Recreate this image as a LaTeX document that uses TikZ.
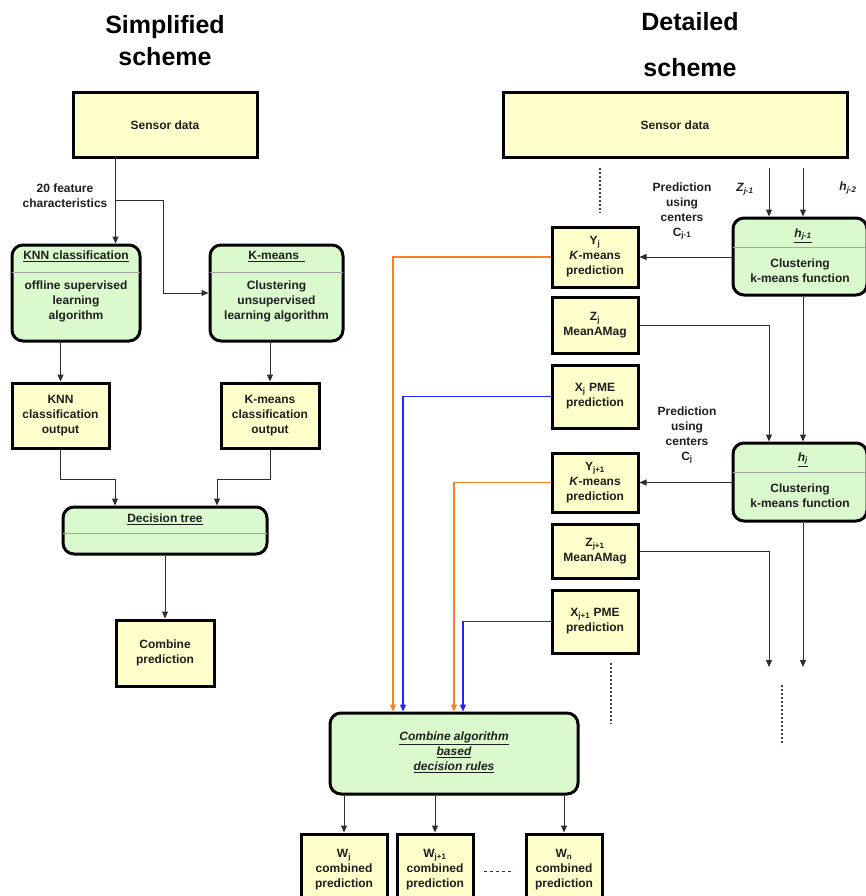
\documentclass[tikz,border=0pt]{standalone}
\usepackage{fontspec}
\setmainfont{Liberation Sans}
\usetikzlibrary{arrows.meta,calc}
\definecolor{yel}{RGB}{255,255,204}
\definecolor{grn}{RGB}{218,250,206}
\definecolor{lnk}{RGB}{45,45,45}
\definecolor{org}{RGB}{255,125,35}
\definecolor{blu}{RGB}{35,35,255}
\definecolor{sepg}{RGB}{165,165,165}
\begin{document}
\begin{tikzpicture}[x=1pt,y=-1pt,
  txt/.style={font=\fontsize{12}{15}\selectfont\bfseries, text=black!88, align=center, inner sep=0pt},
  itxt/.style={txt, font=\fontsize{12}{15}\selectfont\bfseries\itshape},
  ybox/.style={txt, draw=black, line width=3pt, fill=yel},
  gbox/.style={draw=black, line width=3pt, fill=grn, rounded corners=11pt, inner sep=0pt},
  ttl/.style={font=\fontsize{25}{32}\selectfont\bfseries, align=center, inner sep=0pt},
  arr/.style={draw=lnk, line width=1pt, -{Triangle[length=7pt,width=6pt]}},
  oarr/.style={draw=org, line width=1.3pt, -{Triangle[length=7pt,width=6pt]}},
  barr/.style={draw=blu, line width=1.3pt, -{Triangle[length=7pt,width=6pt]}},
  seprule/.style={draw=sepg, line width=1.2pt},
  dotline/.style={draw=black!75, line width=1.3pt, dash pattern=on 2pt off 2pt},
]
\useasboundingbox (0,0) rectangle (866,896);

% ---------- titles ----------
\node[ttl] (t1) at (165,41) {Simplified\\scheme};
\node[ttl] (t2a) at (690,22) {Detailed};
\node[ttl] (t2b) at (690,68) {scheme};

% ---------- left: simplified scheme ----------
\node[ybox, minimum width=184, minimum height=65] (sensL) at (165,125.5) {Sensor data};

\node[gbox, minimum width=128, minimum height=96] (knn) at (76,293) {};
\node[txt] (knnh) at ($(knn.north)+(0,13)$) {\underline{KNN classification}};
\draw[seprule] ($(knn.north west)+(1.5,29)$) -- ($(knn.north east)+(-1.5,29)$);
\node[txt] (knnb) at ($(knn.north)+(0,58)$) {offline supervised\\learning\\algorithm};

\node[gbox, minimum width=133, minimum height=96] (km) at (276.5,293) {};
\node[txt] (kmh) at ($(km.north)+(0,13)$) {\underline{K-means\ \,}};
\draw[seprule] ($(km.north west)+(1.5,29)$) -- ($(km.north east)+(-1.5,29)$);
\node[txt] (kmb) at ($(km.north)+(0,58)$) {Clustering\\unsupervised\\learning algorithm};

\node[ybox, minimum width=97, minimum height=65] (knnout) at (60.5,415.5) {KNN\\classification\\output};
\node[ybox, minimum width=98, minimum height=65] (kmout) at (270,415.5) {K-means\\classification\\output};

\node[gbox, minimum width=204, minimum height=47] (dt) at (165,530.5) {};
\node[txt] (dth) at ($(dt.north)+(0,14)$) {\underline{Decision tree}};
\draw[seprule] ($(dt.north west)+(1.5,28)$) -- ($(dt.north east)+(-1.5,28)$);

\node[ybox, minimum width=98, minimum height=66] (comb) at (165,653) {Combine\\prediction};

\node[txt] (feat) at (65,196) {20 feature\\characteristics};

\coordinate (s1) at ($(sensL.south west)+(44,0)$);
\draw[arr] (s1) -- (s1 |- knn.north);
\draw[arr] (s1 |- 0,200) -- ++(48,0) |- (km.west);
\draw[arr] (knn.south -| knnout.north) -- (knnout.north);
\draw[arr] (km.south -| kmout.north) -- (kmout.north);
\draw[arr] (knnout.south) -- ++(0,30) -| ($(dt.north)+(-50,0)$);
\draw[arr] (kmout.south) -- ++(0,30) -| ($(dt.north)+(52,0)$);
\draw[arr] (dt.south) -- (comb.north);

% ---------- right: detailed scheme ----------
\node[ybox, minimum width=344, minimum height=65] (sensR) at (675,125.5) {Sensor data};

\node[gbox, minimum width=134, minimum height=77] (hj1) at (800,256.5) {};
\node[txt] (hj1h) at ($(hj1.north)+(3,19)$) {\underline{\textit{h}\textsubscript{\textit{j-1}}}};
\draw[seprule] ($(hj1.north west)+(1.5,31)$) -- ($(hj1.north east)+(-1.5,31)$);
\node[txt] (hj1b) at ($(hj1.north)+(0,54)$) {Clustering\\k-means function};

\node[gbox, minimum width=134, minimum height=78] (hj) at (800,482) {};
\node[txt] (hjh) at ($(hj.north)+(3,18)$) {\underline{\textit{h}\textsubscript{\textit{j}}}};
\draw[seprule] ($(hj.north west)+(1.5,31)$) -- ($(hj.north east)+(-1.5,31)$);
\node[txt] (hjb) at ($(hj.north)+(0,54)$) {Clustering\\k-means function};

\node[ybox, minimum width=86, minimum height=60] (yj) at (595,257) {Y\textsubscript{j}\\\textit{K}-means\\prediction};
\node[ybox, minimum width=86, minimum height=56] (zj) at (595,325) {Z\textsubscript{j}\\MeanAMag};
\node[ybox, minimum width=86, minimum height=63] (xj) at (595,396.5) {X\textsubscript{j} PME\\prediction};
\node[ybox, minimum width=86, minimum height=59] (yj1) at (595,482.5) {Y\textsubscript{j+1}\\\textit{K}-means\\prediction};
\node[ybox, minimum width=86, minimum height=54] (zj1) at (595,551) {Z\textsubscript{j+1}\\MeanAMag};
\node[ybox, minimum width=86, minimum height=63] (xj1) at (595,621.5) {X\textsubscript{j+1} PME\\prediction};

\node[txt] (p1) at (682,211) {Prediction\\using\\centers\\C\textsubscript{j-1}};
\node[txt] (p2) at (687,435) {Prediction\\using\\centers\\C\textsubscript{j}};
\node[txt] (zl) at (745,189) {\textit{Z\textsubscript{j-1}}};
\node[txt] (hl) at (848,188) {\textit{h\textsubscript{j-2}}};

\node[gbox, minimum width=248, minimum height=81] (cmb) at (454,753.5) {};
\node[itxt] (cmbt) at (454,752.5) {\underline{Combine algorithm}\\\underline{based}\\\underline{decision rules}};

\node[ybox, minimum width=86, minimum height=71] (w1) at (344,869.5) {W\textsubscript{j}\\combined\\prediction};
\node[ybox, minimum width=76, minimum height=71] (w2) at (435,869.5) {W\textsubscript{j+1}\\combined\\prediction};
\node[ybox, minimum width=76, minimum height=71] (wn) at (564,869.5) {W\textsubscript{n}\\combined\\prediction};

\coordinate (a1) at (769,168);
\coordinate (a2) at (803,168);
\coordinate (e1) at (769,667);
\coordinate (e2) at (803,667);

\draw[arr] (a1) -- (a1 |- hj1.north);
\draw[arr] (a2) -- (a2 |- hj1.north);
\draw[arr] (hj1.west |- yj.east) -- (yj.east);
\draw[arr] (zj.east) -| (a1 |- hj.north);
\draw[arr] (hj1.south -| a2) -- (a2 |- hj.north);
\draw[arr] (hj.west |- yj1.east) -- (yj1.east);
\draw[arr] (zj1.east) -| (e1);
\draw[arr] (hj.south -| a2) -- (e2);

\draw[oarr] (yj.west) -| ($(cmb.north)+(-61,0)$);
\draw[barr] (xj.west) -| ($(cmb.north)+(-51,0)$);
\draw[oarr] (yj1.west) -| (cmb.north);
\draw[barr] (xj1.west) -| ($(cmb.north)+(9,0)$);

\draw[arr] (cmb.south -| w1.north) -- (w1.north);
\draw[arr] (cmb.south -| w2.north) -- (w2.north);
\draw[arr] (cmb.south -| wn.north) -- (wn.north);

\draw[dotline] (600,168) -- (600,213);
\draw[dotline] (611,663) -- (611,724);
\draw[dotline] (782,685) -- (782,745);
\draw[draw=black!80, line width=1pt, dash pattern=on 3pt off 3pt] ($(w2.north east)+(9,39)$) -- ($(wn.north west)+(-11,39)$);
\end{tikzpicture}
\end{document}
